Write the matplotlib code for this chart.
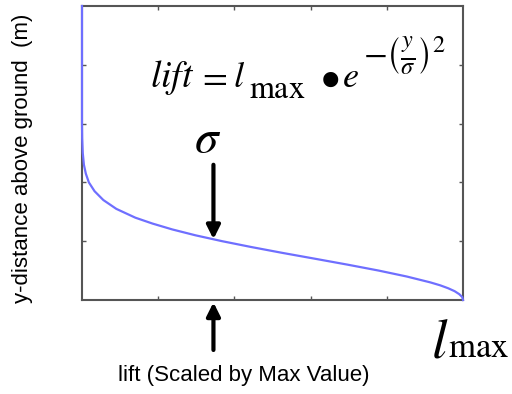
import matplotlib

matplotlib.use('Agg')
import matplotlib.pyplot as plt

# lift profile: height above ground vs. lift (both scaled 0..1)
heights = [1.00, 0.60, 0.55, 0.50, 0.46, 0.43, 0.40, 0.37, 0.34, 0.31, 0.28, 0.26,
           0.24, 0.22, 0.20, 0.18, 0.16, 0.14, 0.12, 0.10, 0.08, 0.06, 0.05, 0.04,
           0.03, 0.02, 0.01, 0.00]
lifts = [0.000, 0.000, 0.0005, 0.002, 0.005, 0.010, 0.018, 0.033, 0.056, 0.090, 0.140, 0.185,
         0.237, 0.298, 0.368, 0.445, 0.527, 0.613, 0.698, 0.779, 0.852, 0.914, 0.940, 0.961,
         0.978, 0.990, 0.998, 1.000]

# where sigma sits on the curve
sigma_lift = 0.345
sigma_height = 0.207

W, H = 512, 394

plt.rcParams['mathtext.fontset'] = 'stix'
plt.rcParams['font.family'] = ['Liberation Sans', 'DejaVu Sans']

fig = plt.figure(figsize=(W / 100, H / 100), dpi=100)
ax = fig.add_axes([82 / W, 1 - 300 / H, 381 / W, 294 / H])


def put(x, y, s, fs, **kw):
    # place text by pixel position measured from the top-left corner
    kw.setdefault('ha', 'left')
    kw.setdefault('va', 'baseline')
    fig.text(x / W, 1 - y / H, s, fontsize=fs, **kw)


ax.plot(lifts, heights, color='#6f6fff', lw=1.6, clip_on=False, zorder=3)
ax.set_xlim(0, 1)
ax.set_ylim(0, 1)

ax.set_xticks([0.2, 0.4, 0.6, 0.8])
ax.set_yticks([0.2, 0.4, 0.6, 0.8])
ax.set_xticklabels([])
ax.set_yticklabels([])
ax.tick_params(direction='in', top=True, right=True, length=3, width=1, color='#555555')
for sp in ax.spines.values():
    sp.set_color('#555555')
    sp.set_linewidth(1.5)

ax.set_xlabel('lift (Scaled by Max Value)', fontsize=16)
ax.xaxis.set_label_coords(0.425, -0.222)
ax.set_ylabel('y-distance above ground  (m)', fontsize=16)
ax.yaxis.set_label_coords(-0.128, 0.483)

# formula, set piece by piece so the exponent stays large
put(150, 87, r'$lift$', 27)
put(197, 87, r'$=$', 26)
put(233, 87, r'$l$', 26)
put(249, 98, r'$\mathrm{max}$', 23)
put(330, 79, r'$\bullet$', 40, ha='center', va='center')
put(342, 87, r'$e$', 26)
put(363, 56, r'$-\left(\frac{y}{\sigma}\right)^{2}$', 25, va='center')

# sigma label with arrow down to the curve
put(208, 140, r'$\sigma$', 34, ha='center', va='center')
ax.annotate('', xy=(sigma_lift, sigma_height), xytext=(sigma_lift, 0.46),
            arrowprops=dict(arrowstyle='-|>', color='black', lw=3, mutation_scale=20,
                            shrinkA=0, shrinkB=0), annotation_clip=False)

# arrow up from below the axis
ax.annotate('', xy=(sigma_lift, -0.008), xytext=(sigma_lift, -0.17),
            xycoords='axes fraction',
            arrowprops=dict(arrowstyle='-|>', color='black', lw=3, mutation_scale=20,
                            shrinkA=0, shrinkB=0), annotation_clip=False)

# l_max at the end of the lift axis
put(431, 357, r'$l$', 40)
put(448, 357, r'$\mathrm{max}$', 25)

fig.savefig('out.png', dpi=100)
